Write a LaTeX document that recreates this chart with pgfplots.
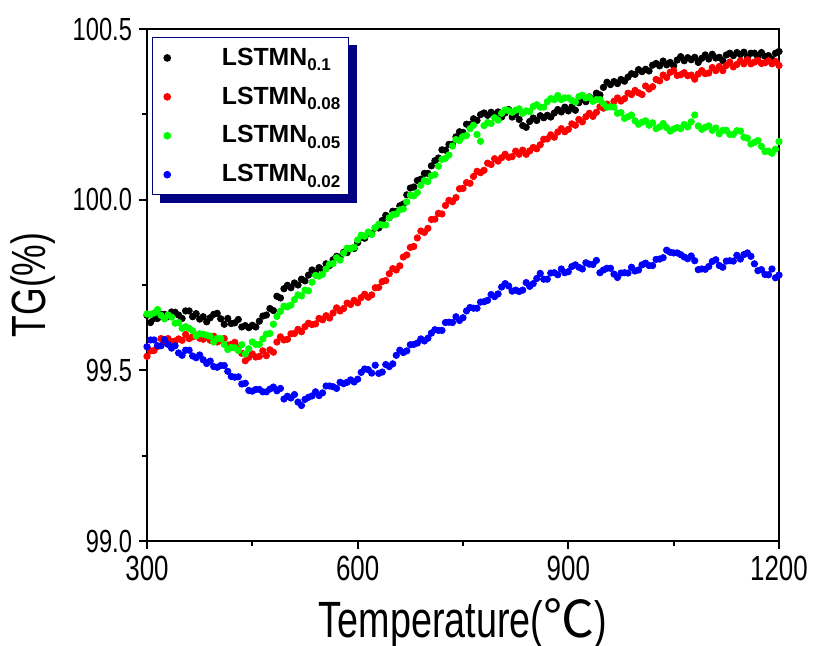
\documentclass[border=0pt]{standalone}
\usepackage{pgfplots}
\pgfplotsset{compat=1.18}
\usepackage{pgfplotstable}
\usepackage{fontspec}
\setmainfont{Liberation Sans}
\newfontfamily\condfont{Liberation Sans}[FakeStretch=0.74]
\newfontfamily\cjk{Noto Sans CJK SC}
\usetikzlibrary{shadows}
\definecolor{navy}{RGB}{0,0,128}
\definecolor{dotgreen}{RGB}{0,255,0}
\definecolor{dotred}{RGB}{255,0,0}
\definecolor{dotblue}{RGB}{0,0,255}

\pgfplotstableread{
T b r g bl
300 99.661 99.541 99.665 99.569
305 99.640 99.557 99.663 99.589
310 99.652 99.558 99.668 99.589
315 99.652 99.570 99.678 99.572
320 99.664 99.593 99.661 99.572
325 99.664 99.583 99.651 99.590
330 99.657 99.593 99.662 99.576
335 99.671 99.584 99.656 99.565
340 99.670 99.586 99.638 99.572
345 99.662 99.592 99.640 99.551
350 99.652 99.588 99.623 99.544
355 99.674 99.605 99.628 99.559
360 99.674 99.593 99.623 99.559
365 99.657 99.598 99.616 99.542
370 99.666 99.603 99.601 99.537
375 99.650 99.594 99.607 99.545
380 99.657 99.591 99.606 99.531
385 99.642 99.597 99.603 99.520
390 99.654 99.588 99.600 99.527
395 99.664 99.600 99.583 99.511
400 99.667 99.583 99.593 99.509
405 99.651 99.588 99.593 99.514
410 99.635 99.593 99.576 99.514
415 99.652 99.574 99.561 99.497
420 99.637 99.576 99.567 99.482
425 99.639 99.582 99.566 99.480
430 99.649 99.568 99.558 99.481
435 99.627 99.550 99.575 99.460
440 99.631 99.528 99.548 99.462
445 99.625 99.538 99.563 99.441
450 99.632 99.548 99.583 99.439
455 99.627 99.539 99.576 99.444
460 99.644 99.541 99.576 99.444
465 99.659 99.557 99.592 99.437
470 99.662 99.543 99.606 99.437
475 99.681 99.560 99.608 99.445
480 99.675 99.553 99.635 99.451
485 99.717 99.583 99.658 99.440
490 99.712 99.598 99.673 99.447
495 99.739 99.589 99.688 99.416
500 99.749 99.591 99.686 99.424
505 99.742 99.607 99.691 99.419
510 99.756 99.608 99.707 99.429
515 99.750 99.620 99.721 99.407
520 99.767 99.613 99.718 99.397
525 99.762 99.628 99.735 99.415
530 99.779 99.638 99.733 99.421
535 99.794 99.634 99.758 99.425
540 99.787 99.636 99.778 99.437
545 99.801 99.652 99.776 99.426
550 99.795 99.648 99.781 99.434
555 99.812 99.660 99.797 99.454
560 99.807 99.653 99.811 99.454
565 99.824 99.668 99.813 99.452
570 99.834 99.683 99.830 99.447
575 99.832 99.674 99.823 99.465
580 99.846 99.681 99.843 99.461
585 99.845 99.697 99.858 99.465
590 99.857 99.693 99.856 99.472
595 99.857 99.705 99.861 99.466
600 99.874 99.698 99.882 99.474
605 99.889 99.713 99.896 99.494
610 99.887 99.723 99.893 99.504
615 99.901 99.714 99.905 99.502
620 99.900 99.721 99.898 99.492
625 99.917 99.742 99.918 99.515
630 99.917 99.743 99.928 99.491
635 99.939 99.760 99.926 99.495
640 99.954 99.763 99.926 99.517
645 99.947 99.783 99.947 99.511
650 99.966 99.798 99.956 99.519
655 99.965 99.794 99.958 99.544
660 99.982 99.806 99.970 99.559
665 99.987 99.832 99.973 99.552
670 100.014 99.838 99.993 99.557
675 100.034 99.860 100.013 99.575
680 100.037 99.863 100.011 99.576
685 100.056 99.888 100.021 99.580
690 100.060 99.908 100.042 99.592
695 100.077 99.904 100.056 99.586
700 100.077 99.916 100.053 99.594
705 100.099 99.942 100.070 99.609
710 100.114 99.943 100.073 99.619
715 100.122 99.960 100.098 99.617
720 100.146 99.958 100.118 99.617
725 100.145 99.983 100.121 99.640
730 100.162 99.998 100.131 99.641
735 100.162 99.994 100.157 99.640
740 100.184 100.006 100.176 99.657
745 100.199 100.032 100.173 99.646
750 100.197 100.033 100.185 99.654
755 100.221 100.050 100.188 99.674
760 100.220 100.048 100.208 99.684
765 100.237 100.068 100.218 99.682
770 100.232 100.083 100.191 99.682
775 100.249 100.079 100.171 99.700
780 100.254 100.086 100.217 99.701
785 100.247 100.107 100.226 99.705
790 100.256 100.103 100.223 99.722
795 100.250 100.120 100.240 99.716
800 100.257 100.113 100.233 99.724
805 100.242 100.123 100.253 99.744
810 100.254 100.133 100.263 99.754
815 100.264 100.124 100.261 99.747
820 100.242 100.126 100.256 99.732
825 100.251 100.142 100.262 99.735
830 100.235 100.133 100.266 99.731
835 100.217 100.145 100.253 99.735
840 100.212 100.133 100.260 99.757
845 100.229 100.143 100.258 99.746
850 100.239 100.153 100.273 99.754
855 100.232 100.149 100.278 99.769
860 100.246 100.161 100.271 99.784
865 100.240 100.177 100.271 99.767
870 100.247 100.178 100.287 99.767
875 100.242 100.190 100.296 99.785
880 100.254 100.183 100.293 99.786
885 100.264 100.198 100.305 99.780
890 100.257 100.208 100.293 99.797
895 100.271 100.199 100.298 99.786
900 100.260 100.206 100.298 99.789
905 100.272 100.222 100.291 99.804
910 100.262 100.218 100.286 99.809
915 100.284 100.235 100.302 99.802
920 100.294 100.228 100.306 99.797
925 100.287 100.243 100.298 99.815
930 100.301 100.253 100.300 99.811
935 100.295 100.244 100.288 99.810
940 100.312 100.256 100.293 99.822
945 100.307 100.272 100.293 99.786
950 100.329 100.268 100.281 99.794
955 100.344 100.280 100.271 99.799
960 100.337 100.273 100.272 99.799
965 100.346 100.288 100.271 99.782
970 100.340 100.298 100.253 99.772
975 100.352 100.289 100.255 99.785
980 100.347 100.296 100.238 99.786
985 100.359 100.312 100.243 99.785
990 100.369 100.308 100.248 99.802
995 100.367 100.320 100.231 99.791
1000 100.381 100.313 100.221 99.794
1005 100.375 100.308 100.227 99.809
1010 100.382 100.333 100.231 99.814
1015 100.377 100.324 100.218 99.807
1020 100.394 100.331 100.225 99.807
1025 100.399 100.352 100.208 99.825
1030 100.392 100.348 100.213 99.826
1035 100.406 100.365 100.223 99.830
1040 100.395 100.358 100.211 99.852
1045 100.402 100.373 100.201 99.846
1050 100.392 100.378 100.207 99.844
1055 100.409 100.364 100.211 99.844
1060 100.419 100.366 100.208 99.839
1065 100.407 100.372 100.220 99.832
1070 100.416 100.363 100.213 99.827
1075 100.410 100.365 100.228 99.835
1080 100.417 100.353 100.248 99.821
1085 100.402 100.368 100.216 99.795
1090 100.414 100.378 100.206 99.797
1095 100.424 100.369 100.212 99.796
1100 100.412 100.371 100.216 99.804
1105 100.426 100.387 100.203 99.819
1110 100.415 100.378 100.210 99.824
1115 100.417 100.390 100.193 99.807
1120 100.407 100.378 100.203 99.802
1125 100.424 100.393 100.203 99.820
1130 100.429 100.403 100.191 99.821
1135 100.422 100.389 100.191 99.820
1140 100.431 100.396 100.202 99.837
1145 100.425 100.407 100.201 99.826
1150 100.432 100.398 100.183 99.839
1155 100.417 100.410 100.180 99.844
1160 100.429 100.398 100.163 99.834
1165 100.429 100.403 100.168 99.812
1170 100.417 100.408 100.173 99.792
1175 100.431 100.399 100.156 99.795
1180 100.420 100.401 100.141 99.781
1185 100.422 100.407 100.142 99.780
1190 100.412 100.398 100.136 99.797
1195 100.429 100.405 100.148 99.771
1200 100.434 100.393 100.170 99.779
}\tgdata

\pgfplotsset{mylegimg/.style={legend image code/.code={\path (0pt,0pt) (30pt,0pt); \draw[##1] plot coordinates {(4pt,0pt)};}}}
\newcommand{\sub}[1]{\raisebox{-2.8pt}{\fontsize{8.5}{8.5}\selectfont #1}}

\begin{document}
\begin{tikzpicture}
\begin{axis}[
  scale only axis, width=316pt, height=256pt,
  xmin=300, xmax=1200, ymin=99, ymax=100.5,
  xtick={300,600,900,1200}, xticklabels={300,600,900,1200},
  ytick={99,99.5,100,100.5}, yticklabels={99.0,99.5,100.0,100.5},
  minor xtick={450,750,1050}, minor ytick={99.25,99.75,100.25},
  tick pos=left, tick align=outside,
  major tick length=4pt, minor tick length=2.5pt,
  axis line style={line width=1pt},
  every tick/.style={black, line width=1pt},
  xticklabel style={font=\condfont\fontsize{17.5}{17.5}\selectfont},
  yticklabel style={font=\condfont\fontsize{16}{16}\selectfont},
  xlabel={Temperature({\cjk ℃})}, ylabel={TG(\%)},
  xlabel style={font=\condfont\fontsize{25.5}{25.5}\selectfont, at={(axis description cs:0.5,-0.16)}, anchor=center},
  ylabel style={font=\condfont\fontsize{24}{24}\selectfont, at={(axis description cs:-0.18,0.5)}, anchor=center},
  legend cell align=left,
  legend style={at={(0.008,0.984)}, anchor=north west, draw=navy, line width=0.6pt, fill=white,
    drop shadow={shadow xshift=4pt, shadow yshift=-4pt, fill=navy, draw=navy, opacity=1},
    nodes={inner xsep=1pt},
    font=\bfseries\fontsize{12.4}{13}\selectfont, row sep=5.3pt, inner xsep=3pt, inner ysep=3pt},
]
\addplot[only marks, mark=*, mark size=1.6pt, color=black, mylegimg] table[x=T, y=b] {\tgdata};
\addlegendentry{LSTMN\sub{0.1}}
\addplot[only marks, mark=*, mark size=1.6pt, color=dotred, mylegimg] table[x=T, y=r] {\tgdata};
\addlegendentry{LSTMN\sub{0.08}}
\addplot[only marks, mark=*, mark size=1.6pt, color=dotgreen, mylegimg] table[x=T, y=g] {\tgdata};
\addlegendentry{LSTMN\sub{0.05}}
\addplot[only marks, mark=*, mark size=1.6pt, color=dotblue, mylegimg] table[x=T, y=bl] {\tgdata};
\addlegendentry{LSTMN\sub{0.02}}
\end{axis}
\pgfresetboundingbox
\path[use as bounding box] (-73.5pt,-52.5pt) rectangle (335.5pt,270.5pt);
\end{tikzpicture}
\end{document}
